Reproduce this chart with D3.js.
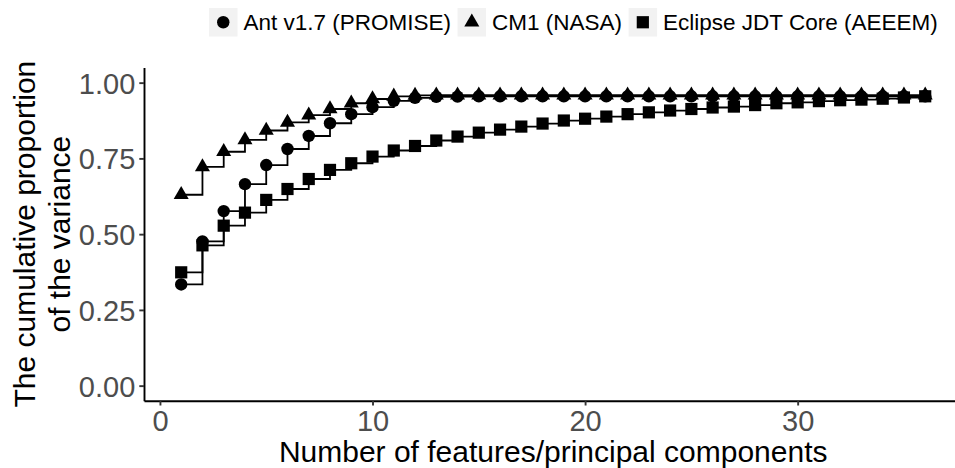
<!DOCTYPE html>
<html>
<head>
<meta charset="utf-8">
<script src="https://cdn.jsdelivr.net/npm/d3@7"></script>
<style>
  html, body { margin: 0; padding: 0; background: #ffffff; }
  svg { display: block; font-family: "Liberation Sans", Arial, sans-serif; }
</style>
</head>
<body>
<svg id="chart" width="955" height="468"></svg>
<script>
// Number of retained features / principal components
const components = [1, 2, 3, 4, 5, 6, 7, 8, 9, 10, 11, 12, 13, 14, 15, 16, 17, 18,
  19, 20, 21, 22, 23, 24, 25, 26, 27, 28, 29, 30, 31, 32, 33, 34, 35, 36];

// Cumulative proportion of variance explained, per data set
const antValues = [0.334, 0.476, 0.576, 0.665, 0.728, 0.781, 0.824, 0.866, 0.896, 0.919,
  0.940, 0.950, 0.953, 0.954, 0.955, 0.955, 0.955, 0.955, 0.955, 0.955, 0.955, 0.955,
  0.955, 0.955, 0.955, 0.955, 0.955, 0.955, 0.955, 0.955, 0.955, 0.955, 0.955, 0.955,
  0.955, 0.955];
const cm1Values = [0.630, 0.722, 0.772, 0.811, 0.842, 0.869, 0.893, 0.913, 0.932, 0.946,
  0.955, 0.958, 0.959, 0.959, 0.959, 0.959, 0.959, 0.959, 0.959, 0.959, 0.959, 0.959,
  0.959, 0.959, 0.959, 0.959, 0.959, 0.959, 0.959, 0.959, 0.959, 0.959, 0.959, 0.959,
  0.959, 0.959];
const eclipseValues = [0.374, 0.463, 0.528, 0.571, 0.613, 0.649, 0.682, 0.712, 0.734, 0.756,
  0.776, 0.791, 0.809, 0.822, 0.835, 0.845, 0.855, 0.865, 0.875, 0.881, 0.888, 0.896,
  0.902, 0.908, 0.913, 0.918, 0.921, 0.926, 0.932, 0.935, 0.939, 0.942, 0.944, 0.947,
  0.951, 0.955];

const seriesNames = ["Ant v1.7 (PROMISE)", "CM1 (NASA)", "Eclipse JDT Core (AEEEM)"];
const seriesShapes = ["circle", "triangle", "square"];
const seriesValues = [antValues, cm1Values, eclipseValues];

const xTicks = [0, 10, 20, 30];
const yTicks = [0, 0.25, 0.5, 0.75, 1];
const xTitle = "Number of features/principal components";
const yTitleLines = ["The cumulative proportion", "of the variance"];

const svg = d3.select("#chart");

const panel = { left: 144, right: 962.4, top: 67.5, bottom: 400.8 };

const x = d3.scaleLinear().domain([-0.75, 37.75]).range([panel.left, panel.right]);
const y = d3.scaleLinear().domain([-0.05, 1.05]).range([panel.bottom, panel.top]);

const series = seriesNames.map((name, i) => ({
  name,
  shape: seriesShapes[i],
  points: components.map((c, j) => ({ c, v: seriesValues[i][j] }))
}));

// Marker drawing
const symbolFor = {
  circle: d3.symbol().type(d3.symbolCircle).size(Math.PI * 6.2 * 6.2),
  triangle: d3.symbol().type(d3.symbolTriangle).size(98),
  square: d3.symbol().type(d3.symbolSquare).size(12.2 * 12.2)
};
function drawMarker(g, shape, cx, cy) {
  g.append("path")
    .attr("d", symbolFor[shape]())
    .attr("transform", `translate(${cx},${cy})`)
    .attr("fill", "#000");
}

// Axes
const xAxis = d3.axisBottom(x).tickValues(xTicks).tickFormat(d3.format("d"))
  .tickSizeOuter(0).tickSizeInner(4.7).tickPadding(5);
const yAxis = d3.axisLeft(y).tickValues(yTicks).tickFormat(d3.format(".2f"))
  .tickSizeOuter(0).tickSizeInner(4.7).tickPadding(4);

const gx = svg.append("g").attr("transform", `translate(0,${panel.bottom})`).call(xAxis);
const gy = svg.append("g").attr("transform", `translate(${panel.left},0)`).call(yAxis);

[gx, gy].forEach(g => {
  g.select(".domain").attr("stroke", "#000").attr("stroke-width", 1.9);
  g.selectAll(".tick line").attr("stroke", "#333333").attr("stroke-width", 1.9);
  g.selectAll(".tick text")
    .attr("fill", "#4D4D4D")
    .attr("font-size", 29)
    .attr("font-family", "Liberation Sans, Arial, sans-serif");
});
gy.selectAll(".tick text").attr("dy", "0.36em");
gx.selectAll(".tick text").attr("dy", "0.72em");

// Step lines
const stepLine = d3.line()
  .x(d => x(d.c))
  .y(d => y(d.v))
  .curve(d3.curveStepAfter);

const linesG = svg.append("g");
series.forEach(s => {
  linesG.append("path")
    .attr("d", stepLine(s.points))
    .attr("fill", "none")
    .attr("stroke", "#000")
    .attr("stroke-width", 1.8);
});

// Points
const pointsG = svg.append("g");
series.forEach(s => {
  s.points.forEach(p => drawMarker(pointsG, s.shape, x(p.c), y(p.v)));
});

// Axis titles
svg.append("text")
  .attr("x", (panel.left + panel.right) / 2)
  .attr("y", 461.5)
  .attr("text-anchor", "middle")
  .attr("font-size", 30)
  .attr("fill", "#000")
  .text(xTitle);

const yMid = (panel.top + panel.bottom) / 2;
yTitleLines.forEach((line, i) => {
  svg.append("text")
    .attr("transform", `translate(${35 + i * 35},${yMid}) rotate(-90)`)
    .attr("text-anchor", "middle")
    .attr("font-size", 30)
    .attr("fill", "#000")
    .text(line);
});

// Legend
const legendG = svg.append("g");
const keySize = 28.5;
const legendTop = 8;
let lx = 209;
series.forEach(s => {
  legendG.append("rect")
    .attr("x", lx).attr("y", legendTop)
    .attr("width", keySize).attr("height", keySize)
    .attr("fill", "#F2F2F2");
  drawMarker(legendG, s.shape, lx + keySize / 2, legendTop + keySize / 2);
  const t = legendG.append("text")
    .attr("x", lx + keySize + 6)
    .attr("y", legendTop + keySize / 2)
    .attr("dy", "0.36em")
    .attr("font-size", 22.5)
    .attr("fill", "#000")
    .text(s.name);
  lx += keySize + 6 + t.node().getComputedTextLength() + 6.5;
});
</script>
</body>
</html>
